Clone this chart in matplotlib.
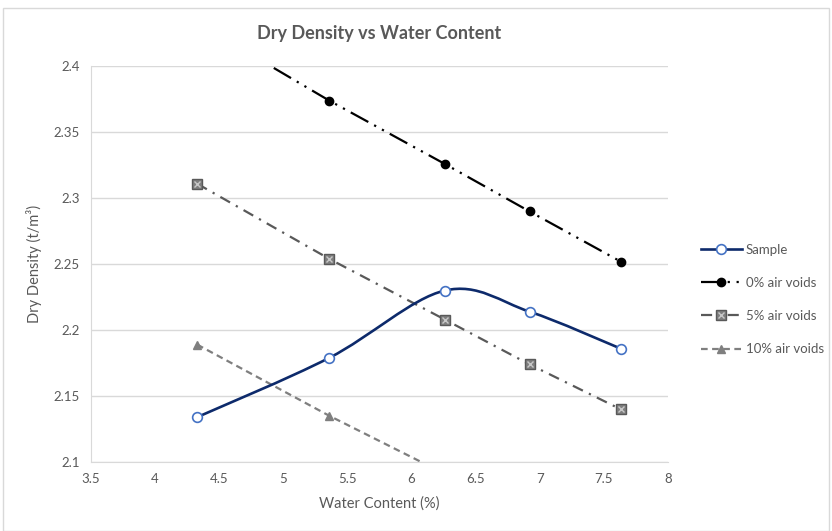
import matplotlib
matplotlib.use("Agg")
import matplotlib.pyplot as plt
import numpy as np
from matplotlib.path import Path
from matplotlib.patches import PathPatch, Rectangle
from matplotlib.lines import Line2D
from matplotlib.legend_handler import HandlerTuple

# data
water = [4.33, 5.36, 6.26, 6.92, 7.63]
sample = [2.134, 2.179, 2.230, 2.214, 2.186]
voids_0 = [2.433, 2.374, 2.326, 2.290, 2.252]
voids_5 = [2.311, 2.254, 2.208, 2.174, 2.140]
voids_10 = [2.189, 2.135, 2.091, 2.059, 2.027]

x_ticks = [3.5, 4, 4.5, 5, 5.5, 6, 6.5, 7, 7.5, 8]
y_ticks = [2.1, 2.15, 2.2, 2.25, 2.3, 2.35, 2.4]

plt.rcParams['font.family'] = ['Lato', 'DejaVu Sans']
txt = '#595959'


def smooth_path(xs, ys):
    # Excel style smoothed line: cubic bezier through the points
    pts = np.column_stack([xs, ys])
    n = len(pts)
    verts = [pts[0]]
    codes = [Path.MOVETO]
    for i in range(n - 1):
        p0 = pts[max(i - 1, 0)]
        p1 = pts[i]
        p2 = pts[i + 1]
        p3 = pts[min(i + 2, n - 1)]
        c1 = p1 + (p2 - p0) / 6.0
        c2 = p2 - (p3 - p1) / 6.0
        verts += [c1, c2, p2]
        codes += [Path.CURVE4] * 3
    return Path(verts, codes)


fig = plt.figure(figsize=(8.32, 5.31), dpi=100)
ax = fig.add_axes([0.109, 0.130, 0.694, 0.745])

# sample curve
ax.add_patch(PathPatch(smooth_path(water, sample), fill=False,
                       edgecolor='#0d2a6b', lw=1.9, zorder=4))
ax.plot(water, sample, ls='none', marker='o', ms=7, mfc='white',
        mec='#4472c4', mew=1.2, zorder=5)
h_sample = Line2D([], [], color='#0d2a6b', lw=1.9, marker='o', ms=7,
                  mfc='white', mec='#4472c4', mew=1.2)

# zero air voids
h0, = ax.plot(water, voids_0, color='black', lw=1.6,
              dashes=(9, 3, 1, 3, 1, 3), marker='o', ms=6, zorder=3)

# 5% air voids
h5, = ax.plot(water, voids_5, color='#595959', lw=1.6,
              dashes=(5, 3, 1, 3), marker='s', ms=7, mfc='#7f7f7f',
              mec='#595959', zorder=3)
h5x, = ax.plot(water, voids_5, ls='none', marker='x', ms=5,
               mec='#c8c8c8', mew=1.0, zorder=3.5)

# 10% air voids
h10, = ax.plot(water, voids_10, color='#7f7f7f', lw=1.6,
               dashes=(3, 2), marker='^', ms=6, mfc='#7f7f7f',
               mec='#7f7f7f', zorder=3)

ax.set_xlim(3.5, 8)
ax.set_ylim(2.1, 2.4)
ax.set_xticks(x_ticks)
ax.set_xticklabels([f'{v:g}' for v in x_ticks])
ax.set_yticks(y_ticks)
ax.set_yticklabels([f'{v:g}' for v in y_ticks])
ax.tick_params(length=0, labelsize=9.5, colors=txt, pad=8)
ax.grid(axis='y', color='#d9d9d9', lw=1)
ax.set_axisbelow(True)
for s in ['top', 'right']:
    ax.spines[s].set_visible(False)
for s in ['left', 'bottom']:
    ax.spines[s].set_color('#d9d9d9')

ax.set_xlabel('Water Content (%)', fontsize=10.5, color=txt, labelpad=8)
ax.set_ylabel('Dry Density (t/m³)', fontsize=10.5, color=txt, labelpad=8)
ax.set_title('Dry Density vs Water Content', fontsize=13, color=txt,
             fontweight='bold', pad=20)

fig.legend([h_sample, h0, (h5, h5x), h10],
           ['Sample', '0% air voids', '5% air voids', '10% air voids'],
           handler_map={tuple: HandlerTuple(ndivide=1)},
           loc='center left', bbox_to_anchor=(0.828, 0.436), frameon=False,
           fontsize=9.5, labelcolor=txt, handlelength=3.1, handletextpad=0.3,
           labelspacing=1.6)

fig.add_artist(Rectangle((0.004, 0.0), 0.992, 0.985, transform=fig.transFigure,
                         fill=False, edgecolor='#d9d9d9', lw=1))

fig.savefig('out.png', dpi=100)
